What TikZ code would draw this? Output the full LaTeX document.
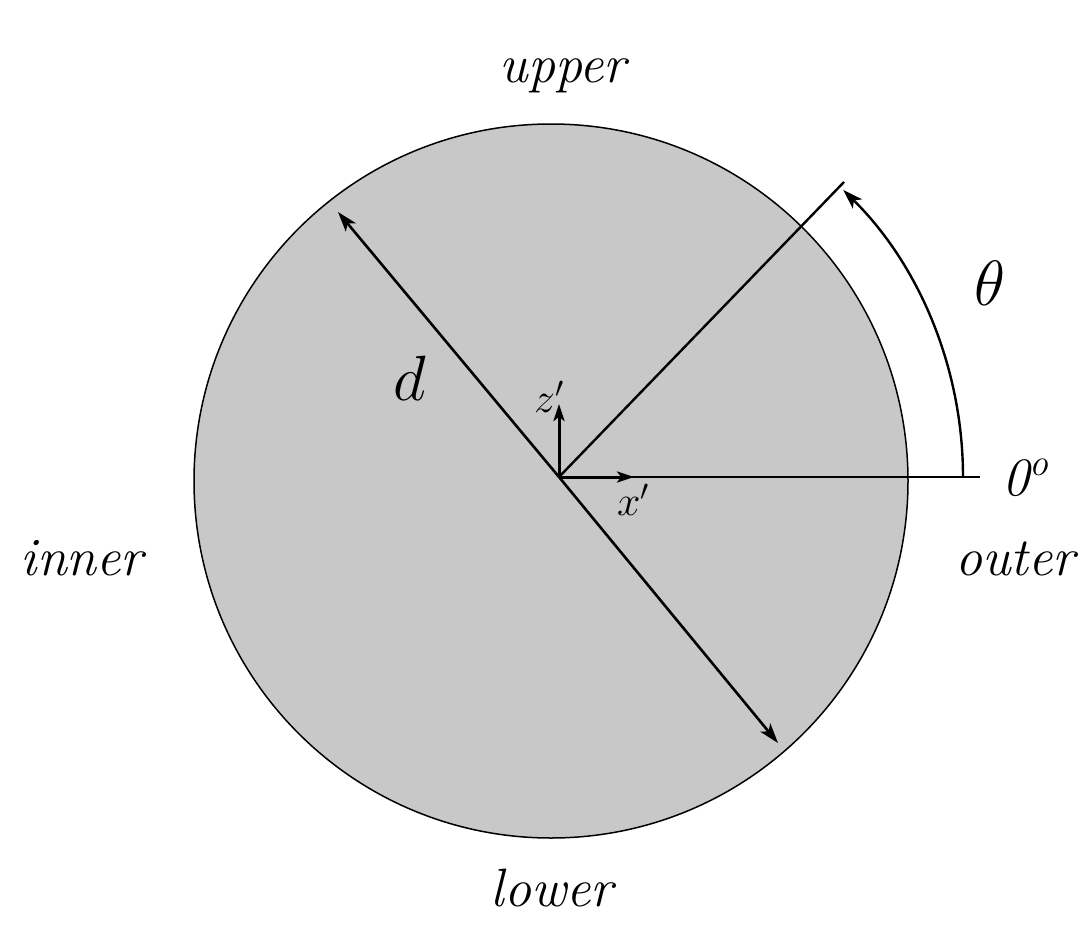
\RequirePackage{fix-cm}
\documentclass[tikz,border=0pt]{standalone}
\usetikzlibrary{arrows.meta}
\begin{document}
\begin{tikzpicture}[x=1pt,y=-1pt,
  lbl/.style={inner sep=0pt,font=\fontsize{54}{62}\selectfont\itshape},
  mlbl/.style={inner sep=0pt,font=\fontsize{64}{72}\selectfont},
  slbl/.style={inner sep=0pt,font=\fontsize{42}{50}\selectfont},
  tip/.style={-{Stealth[length=20pt,width=13pt,inset=5pt]}},
  stip/.style={-{Stealth[length=17pt,width=11pt,inset=4pt]}}]
\useasboundingbox (0,0) rectangle (1092,934);
% circle
\coordinate (C) at (551,481);
\fill[fill={rgb,255:red,200;green,200;blue,200}] (C) circle[radius=357pt];
\draw[line width=1.5pt] (C) circle[radius=357pt];
% points
\coordinate (O) at (559,477);
\coordinate (D1) at (338,212);
\coordinate (D2) at (778,743);
\coordinate (R) at (844,182);
\coordinate (H) at (980,477);
\coordinate (A0) at (963,477);
\coordinate (Z) at (559,404);
\coordinate (X) at (634,477);
% lines
\draw[line width=2.6pt,tip] (O) -- (D1);
\draw[line width=2.6pt,tip] (O) -- (D2);
\draw[line width=2.4pt] (O) -- (R);
\draw[line width=2.8pt] (O) -- (H);
\draw[line width=2.4pt,tip] (A0) arc[start angle=0,end angle=45.3,radius=404pt];
\draw[line width=3pt,stip] (O) -- (Z);
\draw[line width=3pt,stip] (O) -- (X);
% labels
\node[lbl,anchor=base] (up) at (563,82) {upper};
\node[lbl,anchor=base] (lo) at (552,906) {lower};
\node[lbl,anchor=base] (in) at (82,575) {inner};
\node[lbl,anchor=base] (out) at (1015,575) {outer};
\node[lbl,anchor=base west] (zero) at (1002,495) {0\textsuperscript{o}};
\node[mlbl] (th) at (990,283) {$\theta$};
\node[mlbl] (dd) at (410,378) {$d$};
\node[slbl] (zl) at (549,397) {$z'$};
\node[slbl] (xl) at (633,500) {$x'$};
\end{tikzpicture}
\end{document}
